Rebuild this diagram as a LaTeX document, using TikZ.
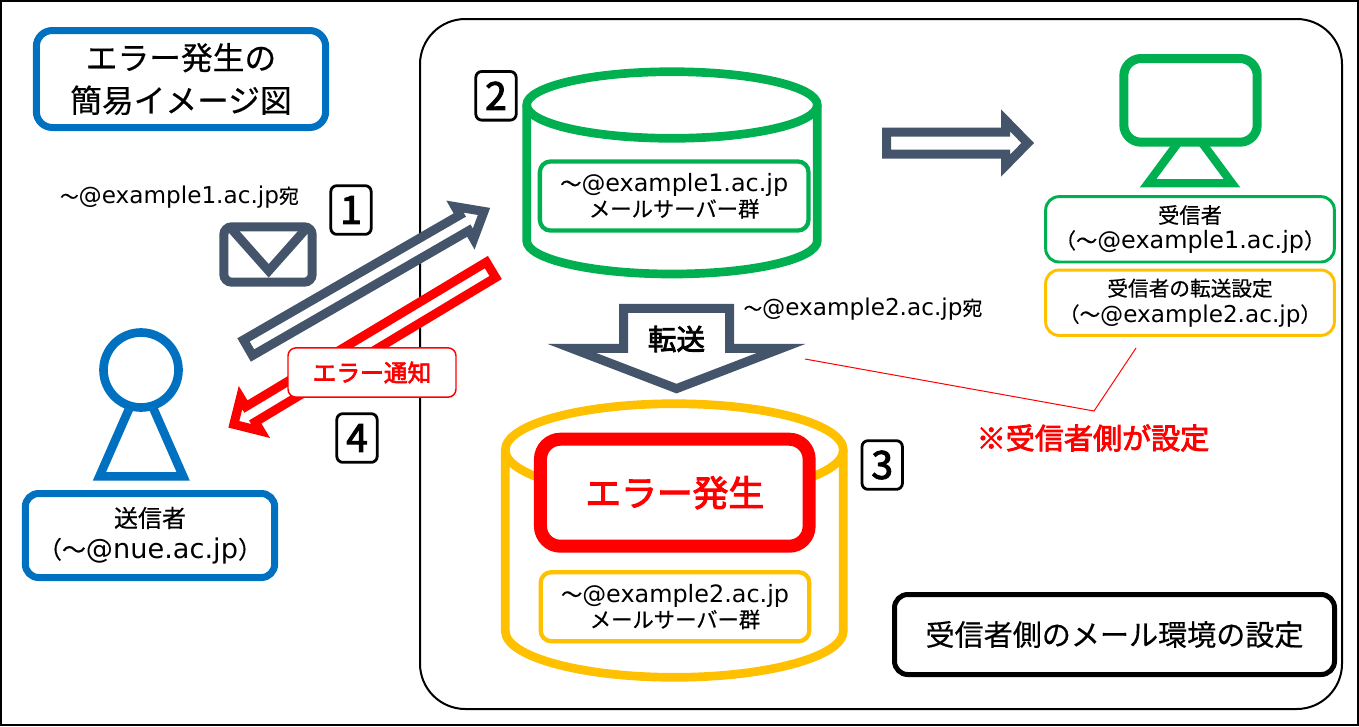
\documentclass[tikz,border=0pt]{standalone}
\usepackage{fontspec}
\setmainfont[Scale=1.12]{DejaVu Sans}
\newfontfamily\cjk[FakeBold=0.4]{Noto Sans CJK JP}
\newfontfamily\cjkm[FakeBold=2.8]{Noto Sans CJK JP}
\newcommand{\J}[1]{{\cjk #1}}
\newcommand{\JS}[2]{{\cjk\fontsize{#1}{#1}\selectfont #2}}
\newcommand{\dn}[2]{\raisebox{-#1pt}{#2}}
\definecolor{cblue}{HTML}{0070C0}
\definecolor{cgreen}{HTML}{00B050}
\definecolor{cyel}{HTML}{FFC000}
\definecolor{cslate}{HTML}{44546A}
\definecolor{cred}{HTML}{FF0000}
\newcommand{\fs}[2]{\fontsize{#1}{#2}\selectfont}
\tikzset{
  x=0.75pt,y=-0.75pt,
  roundbox/.style={rectangle,anchor=center,inner sep=0pt,align=center,fill=white},
  numbox/.style={roundbox,draw=black,line width=2.1pt,rounded corners=4.5pt,minimum width=30.3pt,minimum height=36.5pt,font=\cjkm\fs{29}{30}},
  srvbox/.style={roundbox,line width=3.2pt,rounded corners=8pt,minimum width=201.5pt,minimum height=51.8pt,font=\fs{16}{19}},
  infobox/.style={roundbox,line width=2.2pt,rounded corners=10pt,minimum width=216.5pt,minimum height=49pt},
  blockarrow/.style={line width=6.75pt,miter limit=10,line join=miter,fill=white},
  plainlabel/.style={inner sep=0pt,anchor=center,align=center},
}
\begin{document}
\begin{tikzpicture}
\useasboundingbox (0,0) rectangle (1359,726);
\draw[line width=1.5pt,black,fill=white] (1,1) rectangle (1358,725);
\draw[line width=1.5pt,black,rounded corners=34pt] (420,19) rectangle (1342,709);

% title
\node[roundbox,draw=cblue,line width=5.25pt,rounded corners=12pt,minimum width=217pt,minimum height=72.75pt,font=\fs{23.8}{32}] (title) at (181,79) {\dn{1}{\J{エラー発生の}}\\\dn{1}{\J{簡易イメージ図}}};

% green cylinder
\draw[cgreen,line width=6.5pt,fill=white] (526.7,105) arc[x radius=145.3,y radius=33.3,start angle=180,end angle=540] -- cycle;
\draw[cgreen,line width=6.5pt] (526.7,105) -- (526.7,240.7) arc[x radius=145.3,y radius=33.3,start angle=180,end angle=0] -- (817.3,105);
\node[srvbox,draw=cgreen] (srv1) at (674.2,196) {\J{～}@example1.ac.jp\\\J{メールサーバー群}};

% yellow cylinder
\draw[cyel,line width=6.5pt] (505.3,450) arc[x radius=169,y radius=46.3,start angle=180,end angle=540] -- cycle;
\draw[cyel,line width=6.5pt] (505.3,450) -- (505.3,631) arc[x radius=169,y radius=46.3,start angle=180,end angle=0] -- (843.3,450);
\node[roundbox,draw=cred,line width=9.75pt,rounded corners=15pt,minimum width=201.5pt,minimum height=80.25pt,font=\fs{26.8}{34},text=cred] (err) at (674.8,492.7) {{\cjkm エラー発生}};
\node[srvbox,draw=cyel] (srv2) at (675,606.7) {\J{～}@example2.ac.jp\\\J{メールサーバー群}};

% right arrow
\begin{scope}[shift={(886.5,143)}]
\draw[cslate,blockarrow] (0,11) -- (119,11) -- (119,22.7) -- (141.2,0) -- (119,-22.7) -- (119,-11) -- (0,-11) -- cycle;
\end{scope}

% transfer arrow
\draw[cslate,blockarrow] (623.5,308.4) -- (729.5,308.4) -- (729.5,348.4) -- (781.2,348.4) -- (676.5,388.6) -- (571.8,348.4) -- (623.5,348.4) -- cycle;
\node[plainlabel,font=\fs{21.4}{26}] (fwd) at (676.5,339) {{\cjkm 転送}};

% send arrow
\begin{scope}[shift={(248,347.7)},rotate=30]
\draw[cslate,blockarrow] (0,9) -- (249.8,9) -- (249.8,18.7) -- (272.5,0) -- (249.8,-18.7) -- (249.8,-9) -- (0,-9) -- cycle;
\end{scope}

% error arrow
\begin{scope}[shift={(491,269.8)},rotate=211]
\draw[cred,blockarrow] (0,9) -- (280.5,9) -- (280.5,19.5) -- (300,0) -- (280.5,-19.5) -- (280.5,-9) -- (0,-9) -- cycle;
\end{scope}
\node[roundbox,draw=cred,line width=1.1pt,rounded corners=6pt,minimum width=126pt,minimum height=37pt,font=\fs{17.8}{20},text=cred] (errlabel) at (372,372.5) {{\cjkm エラー通知}};

% envelope
\draw[cslate,line width=6.75pt,rounded corners=6pt,fill=white] (223.8,226.8) rectangle (312.2,282.2);
\draw[cslate,line width=6.75pt] (229.8,227) -- (268.7,270.8) -- (307.6,227);

% person
\draw[cblue,line width=6.5pt,fill=white] (141.3,381) -- (183.2,476.4) -- (99.4,476.4) -- cycle;
\draw[cblue,line width=6.5pt,fill=white] (141,370) circle[radius=37.5];
\node[roundbox,draw=cblue,line width=5.25pt,rounded corners=10pt,minimum width=187pt,minimum height=63pt,font=\fs{18.2}{24}] (sender) at (150,535.5) {\dn{3}{\JS{18}{送信者}}\\\dn{2.5}{\JS{18}{（～}@nue.ac.jp\JS{18}{）}}};

% monitor
\draw[cgreen,line width=6.25pt,fill=white] (1190,126.6) -- (1232,183.3) -- (1148,183.3) -- cycle;
\draw[cgreen,line width=6.75pt,rounded corners=13pt,fill=white] (1123.8,58.5) rectangle (1257.2,142.2);
\node[infobox,draw=cgreen,font=\fs{16}{19}] (recv) at (1190,229.3) {\dn{2}{\J{受信者}}\\\dn{2}{\J{（～}@example1.ac.jp\J{）}}};
\node[infobox,draw=cyel,font=\fs{15.5}{19.5}] (fwdset) at (1190,302.7) {\dn{1.5}{\J{受信者の転送設定}}\\\dn{1.5}{\J{（～}@example2.ac.jp\J{）}}};

% bottom right label
\node[roundbox,draw=black,line width=3.75pt,rounded corners=10pt,minimum width=330pt,minimum height=60pt,font=\fs{21.8}{26}] (env) at (1114.5,634.5) {\J{受信者側のメール環境の設定}};

% numbers
\node[numbox] (n1) at (351,210) {1};
\node[numbox] (n2) at (496,95.8) {2};
\node[numbox] (n3) at (882.2,465) {3};
\node[numbox] (n4) at (357,438) {4};

% address labels
\node[plainlabel,font=\fs{15.5}{18}] (addr1) at (179.5,197) {\JS{14}{～}@example1.ac.jp\JS{15}{宛}};
\node[plainlabel,font=\fs{15.5}{18}] (addr2) at (863,309) {\JS{14}{～}@example2.ac.jp\JS{15}{宛}};

% note
\node[plainlabel,font=\fs{21.8}{25},text=cred] (note) at (1093,438) {{\cjkm ※受信者側が設定}};
\coordinate (c1) at (805,359);
\coordinate (c2) at (1094,411);
\coordinate (c3) at (1136,348);
\draw[cred,line width=0.75pt] (c1) -- (c2) -- (c3);
\end{tikzpicture}
\end{document}
